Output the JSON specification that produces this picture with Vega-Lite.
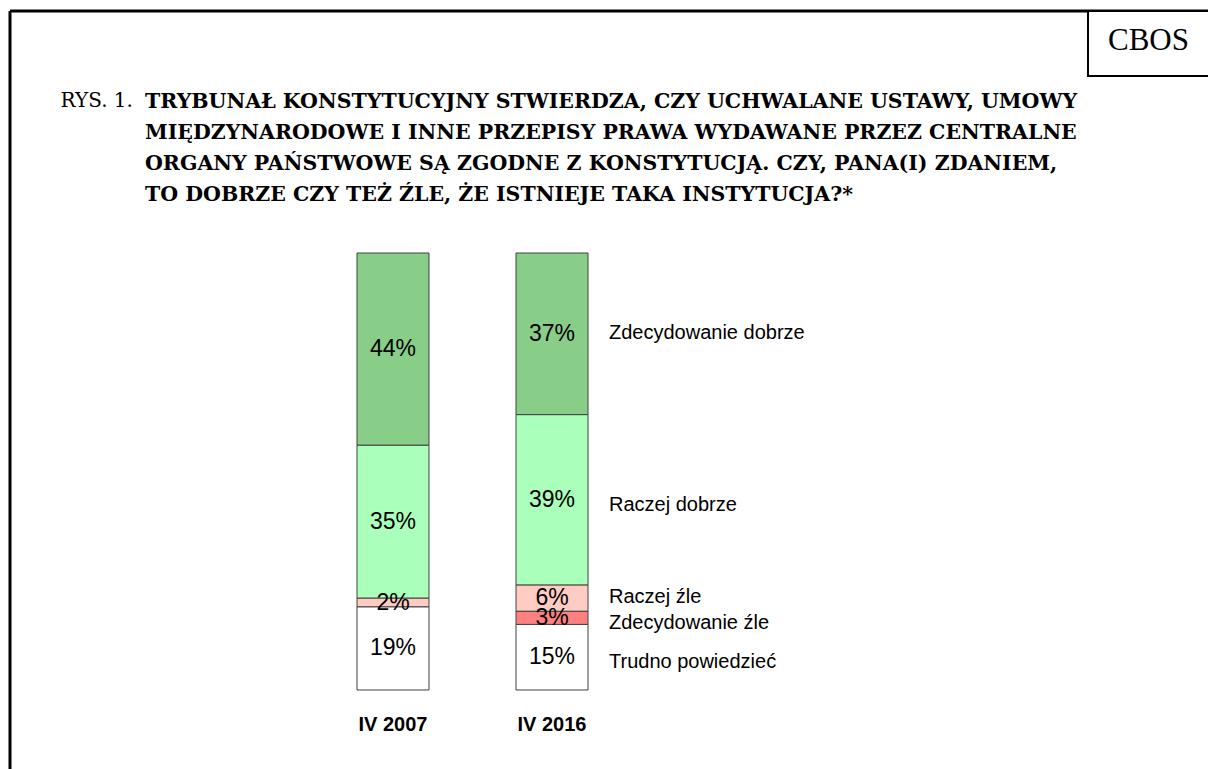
{
  "$schema": "https://vega.github.io/schema/vega-lite/v6.json",
  "autosize": {"type": "none"},
  "width": 1198,
  "height": 758,
  "padding": {"left": 10, "top": 11, "right": 0, "bottom": 0},
  "background": "white",
  "title": {
    "text": [
      "TRYBUNAŁ KONSTYTUCYJNY STWIERDZA, CZY UCHWALANE USTAWY, UMOWY",
      "MIĘDZYNARODOWE I INNE PRZEPISY PRAWA WYDAWANE PRZEZ CENTRALNE",
      "ORGANY PAŃSTWOWE SĄ ZGODNE Z KONSTYTUCJĄ. CZY, PANA(I) ZDANIEM,",
      "TO DOBRZE CZY TEŻ ŹLE, ŻE ISTNIEJE TAKA INSTYTUCJA?*"
    ],
    "anchor": "start",
    "frame": "group",
    "dx": 135,
    "offset": -195,
    "font": "DejaVu Serif",
    "fontSize": 20.5,
    "fontWeight": "bold",
    "lineHeight": 31,
    "color": "black"
  },
  "data": {
    "values": [
      {"period": "IV 2007", "answer": "Zdecydowanie dobrze", "rank": 1, "share": 0.44},
      {"period": "IV 2007", "answer": "Raczej dobrze", "rank": 2, "share": 0.35},
      {"period": "IV 2007", "answer": "Raczej źle", "rank": 3, "share": 0.02},
      {"period": "IV 2007", "answer": "Trudno powiedzieć", "rank": 5, "share": 0.19},
      {"period": "IV 2016", "answer": "Zdecydowanie dobrze", "rank": 1, "share": 0.37},
      {"period": "IV 2016", "answer": "Raczej dobrze", "rank": 2, "share": 0.39},
      {"period": "IV 2016", "answer": "Raczej źle", "rank": 3, "share": 0.06},
      {"period": "IV 2016", "answer": "Zdecydowanie źle", "rank": 4, "share": 0.03},
      {"period": "IV 2016", "answer": "Trudno powiedzieć", "rank": 5, "share": 0.15}
    ]
  },
  "transform": [
    {"stack": "share", "groupby": ["period"], "sort": [{"field": "rank", "order": "descending"}], "as": ["v0", "v1"]},
    {"calculate": "(datum.v0 + datum.v1) / 2", "as": "mid"}
  ],
  "layer": [
    {
      "mark": {"type": "bar", "stroke": "#404040", "strokeWidth": 1},
      "encoding": {
        "x": {
          "field": "period", "type": "nominal",
          "scale": {"domain": ["IV 2007", "IV 2016"], "range": [347, 578], "paddingInner": 0.54717, "paddingOuter": 0},
          "axis": {
            "orient": "bottom", "title": null, "domain": false,
            "ticks": false, "grid": false, "labelAngle": 0, "labelPadding": -45, "labelBaseline": "middle",
            "labelFont": "Liberation Sans", "labelFontSize": 20, "labelFontWeight": "bold", "labelColor": "black"
          }
        },
        "y": {
          "field": "v1", "type": "quantitative",
          "scale": {"domain": [-0.1808, 1.5538], "nice": false, "zero": false},
          "axis": {
            "orient": "left", "domain": false,
            "ticks": false, "labels": false, "grid": false,
            "title": "RYS. 1.", "titleAngle": 0, "titleX": 50, "titleY": 95, "titleAlign": "left", "titleBaseline": "alphabetic",
            "titleFont": "DejaVu Serif", "titleFontSize": 20, "titleFontWeight": "normal", "titleColor": "black"
          }
        },
        "y2": {"field": "v0"},
        "color": {
          "field": "answer", "type": "nominal",
          "scale": {
            "domain": ["Zdecydowanie dobrze", "Raczej dobrze", "Raczej źle", "Zdecydowanie źle", "Trudno powiedzieć"],
            "range": ["#88CE88", "#AAFFBB", "#FFCCC4", "#FF8080", "#FFFFFF"]
          },
          "legend": {
            "title": "CBOS", "orient": "none", "legendX": 1078, "legendY": 0,
            "titleOrient": "left", "direction": "horizontal", "padding": 20,
            "strokeColor": "black", "fillColor": "white",
            "labelExpr": "''", "symbolOpacity": 0, "symbolStrokeWidth": 0, "symbolSize": 400,
            "titleFont": "Liberation Serif", "titleFontSize": 31, "titleFontWeight": "normal", "titleColor": "black"
          }
        }
      }
    },
    {
      "mark": {"type": "text", "font": "Liberation Sans", "fontSize": 23, "color": "black", "baseline": "middle", "align": "center"},
      "encoding": {
        "x": {"field": "period", "type": "nominal"},
        "y": {"field": "mid", "type": "quantitative"},
        "text": {"field": "share", "type": "quantitative", "format": ".0%"}
      }
    },
    {
      "transform": [{"filter": "datum.period === 'IV 2016' && (datum.rank === 1 || datum.rank === 3)"}],
      "mark": {"type": "text", "font": "Liberation Sans", "fontSize": 20, "color": "black", "baseline": "middle", "align": "left", "dx": 57, "dy": -1},
      "encoding": {
        "x": {"field": "period", "type": "nominal"},
        "y": {"field": "mid", "type": "quantitative"},
        "text": {"field": "answer", "type": "nominal"}
      }
    },
    {
      "transform": [{"filter": "datum.period === 'IV 2016' && (datum.rank === 2 || datum.rank === 4 || datum.rank === 5)"}],
      "mark": {"type": "text", "font": "Liberation Sans", "fontSize": 20, "color": "black", "baseline": "middle", "align": "left", "dx": 57, "dy": 5},
      "encoding": {
        "x": {"field": "period", "type": "nominal"},
        "y": {"field": "mid", "type": "quantitative"},
        "text": {"field": "answer", "type": "nominal"}
      }
    }
  ],
  "config": {
    "view": {"stroke": "black", "strokeWidth": 3, "strokeDash": [1198, 1956, 758, 0]},
    "legend": {"strokeWidth": 2}
  }
}
